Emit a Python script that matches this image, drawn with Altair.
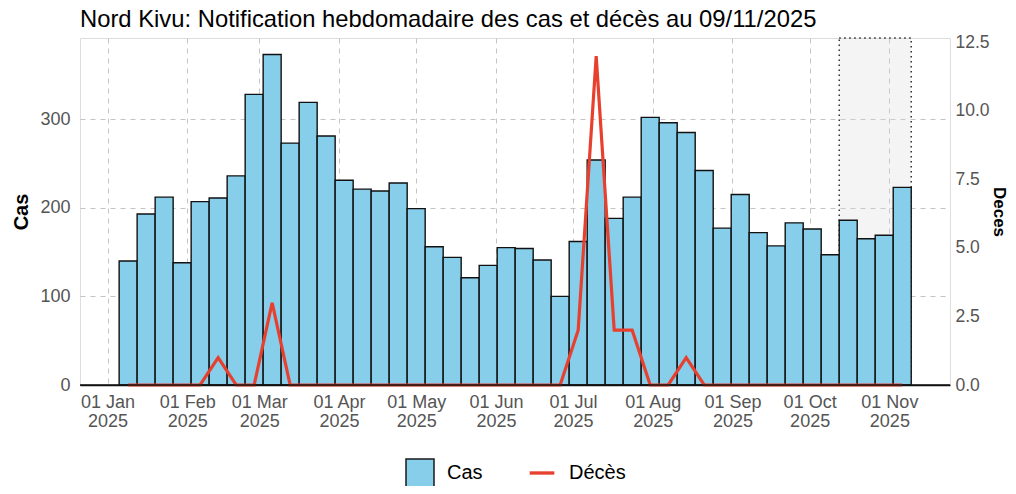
import altair as alt
import pandas as pd

# ---------------- data ----------------
semaines = [
    "2025-01-06", "2025-01-13", "2025-01-20", "2025-01-27", "2025-02-03", "2025-02-10",
    "2025-02-17", "2025-02-24", "2025-03-03", "2025-03-10", "2025-03-17", "2025-03-24",
    "2025-03-31", "2025-04-07", "2025-04-14", "2025-04-21", "2025-04-28", "2025-05-05",
    "2025-05-12", "2025-05-19", "2025-05-26", "2025-06-02", "2025-06-09", "2025-06-16",
    "2025-06-23", "2025-06-30", "2025-07-07", "2025-07-14", "2025-07-21", "2025-07-28",
    "2025-08-04", "2025-08-11", "2025-08-18", "2025-08-25", "2025-09-01", "2025-09-08",
    "2025-09-15", "2025-09-22", "2025-09-29", "2025-10-06", "2025-10-13", "2025-10-20",
    "2025-10-27", "2025-11-03",
]
cas = [140, 193, 212, 138, 207, 211, 236, 328, 373, 273,
       319, 281, 231, 221, 219, 228, 199, 156, 144, 121,
       135, 155, 154, 141, 100, 162, 254, 188, 212, 302,
       296, 285, 242, 177, 215, 172, 157, 183, 176, 147,
       186, 165, 169, 223]
deces = [0, 0, 0, 0, 0, 1, 0, 0, 3, 0,
         0, 0, 0, 0, 0, 0, 0, 0, 0, 0,
         0, 0, 0, 0, 0, 2, 12, 2, 2, 0,
         0, 1, 0, 0, 0, 0, 0, 0, 0, 0,
         0, 0, 0, 0]
mois_ticks = [1, 2, 3, 4, 5, 6, 7, 8, 9, 10, 11]
periode_incomplete = ["2025-10-13", "2025-11-03"]  # first and last week of the shaded period
series = ["Cas", "Décès"]

TITRE = "Nord Kivu: Notification hebdomadaire des cas et décès au 09/11/2025"
Y_MAX_CAS = 391.6
Y_MAX_DECES = 12.66

BLEU = "#87CEEB"
ROUGE = "#E8402F"
NOIR = "#111111"

FMT = "%Y-%m-%dT%H:%M:%SZ"
lundi = pd.to_datetime(semaines, utc=True)
df_cas = pd.DataFrame({
    "debut": (lundi - pd.Timedelta(hours=12)).strftime(FMT),
    "fin": (lundi + pd.Timedelta(days=6, hours=12)).strftime(FMT),
    "cas": cas,
    "base": 0,
})
df_deces = pd.DataFrame({
    "jeudi": (lundi + pd.Timedelta(days=3)).strftime(FMT),
    "deces": deces,
})
p0 = pd.Timestamp(periode_incomplete[0], tz="UTC") - pd.Timedelta(hours=12)
p1 = pd.Timestamp(periode_incomplete[1], tz="UTC") + pd.Timedelta(days=6, hours=12)
df_rect = pd.DataFrame({
    "debut": [p0.strftime(FMT)], "fin": [p1.strftime(FMT)],
    "bas": [0.0], "haut": [Y_MAX_CAS],
})
df_zero = pd.DataFrame({"zero": [0.0]})
df_leg = pd.DataFrame({"serie": series})

# ---------------- scales / axes ----------------
jan1 = pd.Timestamp("2025-01-01", tz="UTC")
d0 = jan1 - pd.Timedelta(days=10.72)
d1 = d0 + pd.Timedelta(days=338.3)
x_scale = alt.Scale(type="utc", domain=[int(d0.timestamp() * 1000), int(d1.timestamp() * 1000)])

FONT = "Liberation Sans"
GRID = "#C4C4C4"
LAB = "#555555"

x_axis = alt.Axis(
    values=[alt.DateTime(year=2025, month=m, date=1, utc=True) for m in mois_ticks],
    labelExpr="[utcFormat(datum.value, '%d %b'), utcFormat(datum.value, '%Y')]",
    ticks=False, grid=True, gridDash=[5, 5], gridColor=GRID, gridWidth=1,
    domain=True, domainColor=NOIR, domainWidth=1.6,
    labelFont=FONT, labelFontSize=18, labelColor=LAB, labelLineHeight=19,
    labelPadding=8, labelOverlap=False, labelFlush=False,
)
yl_axis = alt.Axis(
    values=[0, 100, 200, 300], orient="left", grid=True, gridDash=[5, 5], gridColor=GRID,
    gridWidth=1, ticks=False, domain=False, labelFlush=False,
    labelFont=FONT, labelFontSize=18, labelColor=LAB, labelPadding=10,
    titleFont=FONT, titleFontSize=20, titleFontWeight="bold", titleColor="black", titlePadding=8,
)
yr_axis = alt.Axis(
    values=[0, 2.5, 5, 7.5, 10, 12.5], format=".1f", orient="right", grid=False,
    ticks=False, domain=False, labelFlush=False,
    labelFont=FONT, labelFontSize=17.5, labelColor=LAB, labelPadding=5,
    titleFont=FONT, titleFontSize=17, titleFontWeight="bold", titleColor="black",
    titlePadding=0, titleAngle=90,
)

legende = alt.Legend(
    orient="none", legendX=325, legendY=420, direction="horizontal", title=None,
    symbolSize=784, symbolStrokeWidth=1.5, symbolOpacity=1, labelFont=FONT, labelFontSize=20,
    labelColor="black", labelOffset=12, columnPadding=42, padding=0,
)

yl_scale = alt.Scale(domain=[0, Y_MAX_CAS], nice=False, zero=True)
yr_scale = alt.Scale(domain=[0, Y_MAX_DECES], nice=False, zero=True)

rect = alt.Chart(df_rect).mark_rect(
    fill="#D8D8D8", fillOpacity=0.28, stroke="#222222", strokeDash=[1.5, 3.5], strokeWidth=1.4
).encode(
    x=alt.X("debut:T", scale=x_scale, axis=x_axis, title=None),
    x2="fin:T",
    y=alt.Y("bas:Q", scale=yl_scale, axis=yl_axis, title="Cas"),
    y2="haut:Q",
)

bars = alt.Chart(df_cas).mark_rect(fill=BLEU, stroke=NOIR, strokeWidth=1.4).encode(
    x=alt.X("debut:T", scale=x_scale, axis=x_axis, title=None),
    x2="fin:T",
    y=alt.Y("cas:Q", scale=yl_scale, axis=yl_axis, title="Cas"),
    y2="base:Q",
)

line = alt.Chart(df_deces).mark_line(stroke=ROUGE, strokeWidth=3.2).encode(
    x=alt.X("jeudi:T", scale=x_scale, axis=x_axis, title=None),
    y=alt.Y("deces:Q", scale=yr_scale, axis=yr_axis, title="Deces"),
)

zero_line = alt.Chart(df_zero).mark_rule(color=NOIR, strokeWidth=1.6).encode(
    y=alt.Y("zero:Q", scale=yr_scale, axis=yr_axis, title="Deces"),
)

# legend-only layer: no mark is drawn (data filtered out); entries come from the scale domains
LINE_PATH = "M-1,-1M-1,1M-0.88,-0.12H0.88V0.12H-0.88Z"
leg = alt.Chart(df_leg).mark_point(filled=True, opacity=1).encode(
    fill=alt.Fill("serie:N", scale=alt.Scale(domain=series, range=[BLEU, ROUGE]), legend=legende),
    stroke=alt.Stroke("serie:N", scale=alt.Scale(domain=series, range=["#1a1a1a", "transparent"]), legend=legende),
    shape=alt.Shape("serie:N", scale=alt.Scale(domain=series, range=["square", LINE_PATH]), legend=legende),
).transform_filter("false")

chart = alt.layer(
    alt.layer(rect, bars), alt.layer(line, zero_line), leg
).resolve_scale(y="independent").properties(
    width=870,
    height=347,
    autosize=alt.AutoSizeParams(type="none"),
    padding={"left": 72, "top": 30, "right": 58, "bottom": 101},
    title=alt.Title(TITRE, anchor="start", frame="group", font=FONT, fontSize=23.8,
                    fontWeight="normal", color="black", offset=2),
).configure_view(stroke=None).configure(background="white")

chart.save("out.html", embed_options={"renderer": "svg", "actions": False})
